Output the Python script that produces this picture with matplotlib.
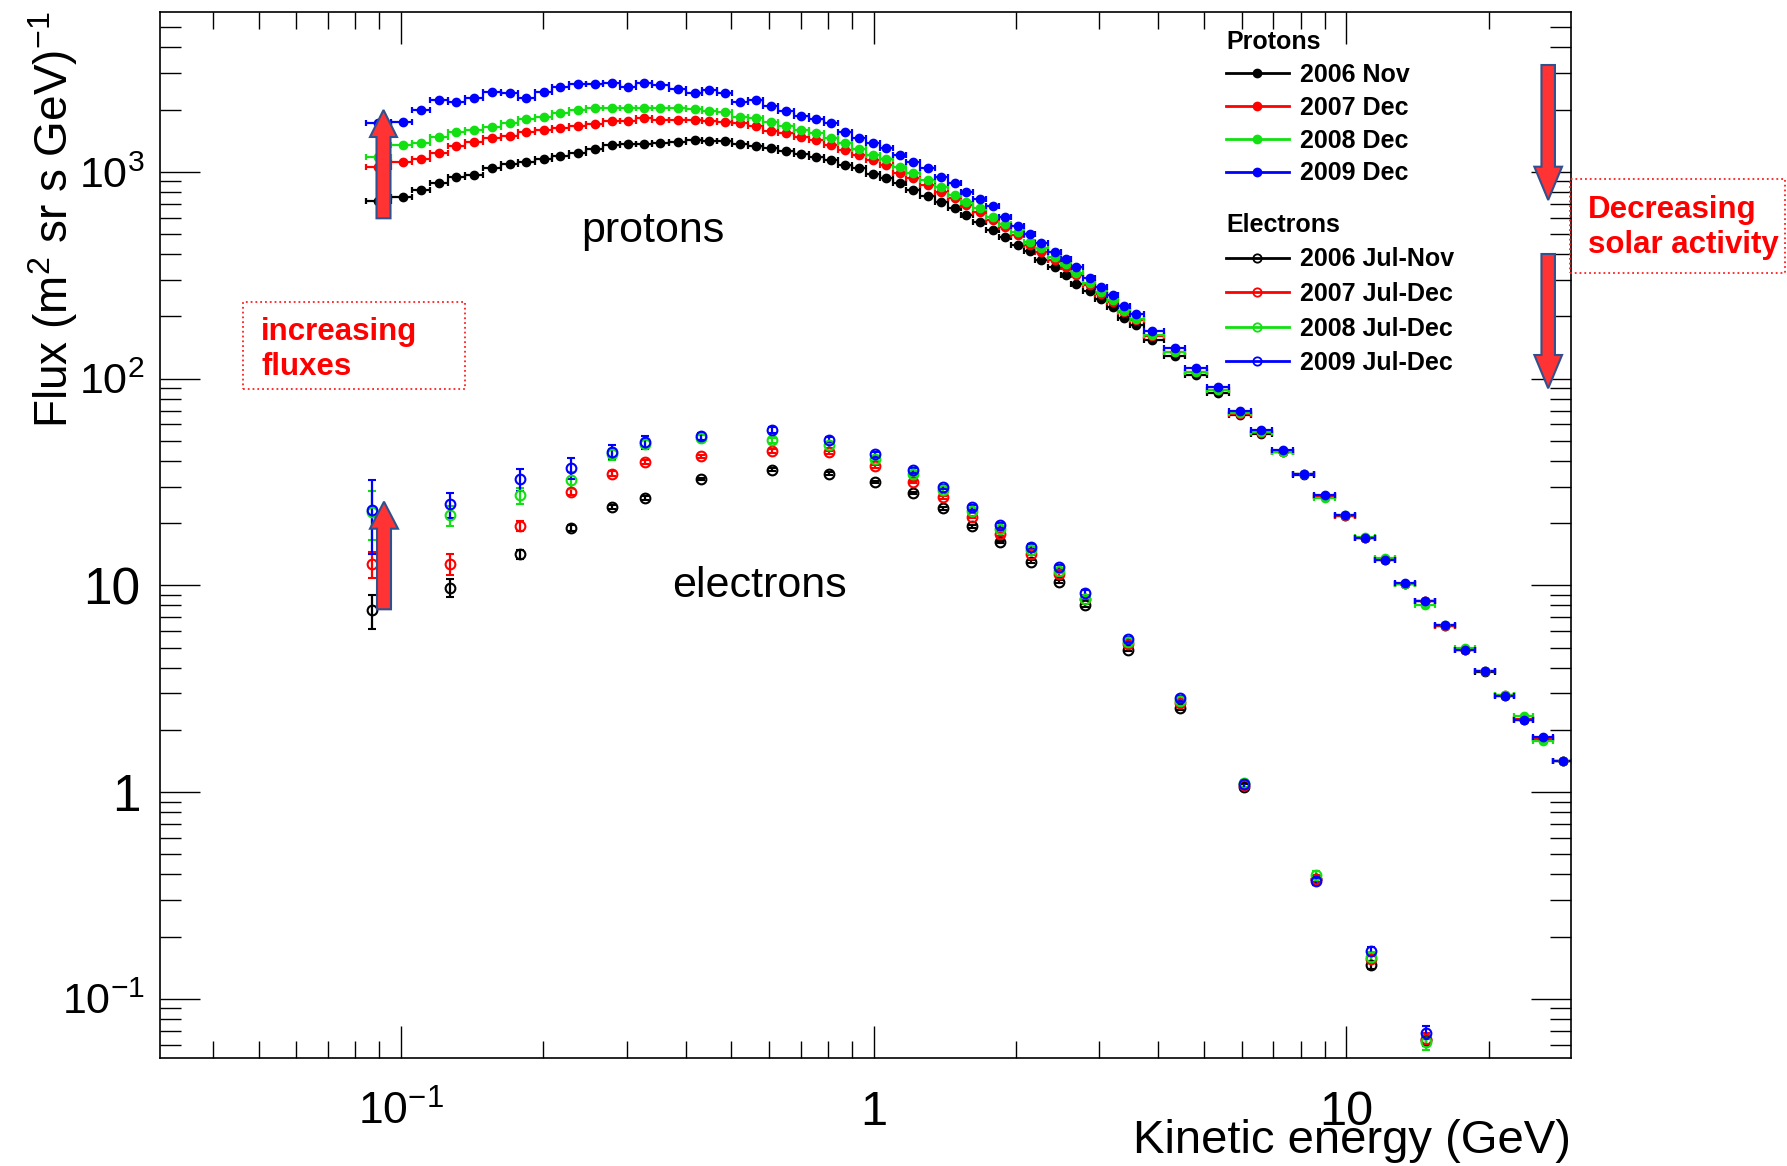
import numpy as np
import matplotlib
matplotlib.use('Agg')
import matplotlib.pyplot as plt
import matplotlib.patches as mpatches
import matplotlib.lines as mlines
import matplotlib.ticker as ticker
import matplotlib.transforms as mtransforms

plt.rcParams['font.family'] = ['Liberation Sans', 'DejaVu Sans']
plt.rcParams['mathtext.fontset'] = 'custom'
plt.rcParams['mathtext.rm'] = 'Liberation Sans'
plt.rcParams['mathtext.it'] = 'Liberation Sans:italic'
plt.rcParams['mathtext.bf'] = 'Liberation Sans:bold'
plt.rcParams['mathtext.default'] = 'regular'

W, H = 1787, 1166

# ---- proton spectra (GeV, flux) ----
e_p = [0.0894, 0.1009, 0.110, 0.1203, 0.1309, 0.1426, 0.156, 0.1703, 0.184, 0.2005,
       0.2173, 0.2367, 0.2568, 0.2794, 0.302, 0.326, 0.3535, 0.3853, 0.418, 0.448,
       0.4837, 0.5203, 0.5626, 0.6049, 0.6533, 0.7027, 0.7537, 0.8134, 0.868, 0.9304,
       0.996, 1.063, 1.134, 1.210, 1.302, 1.390, 1.483, 1.570, 1.675, 1.787,
       1.892, 2.019, 2.137, 2.262, 2.413, 2.556, 2.684, 2.862, 3.03, 3.207,
       3.383, 3.581, 3.886, 4.33, 4.814, 5.348, 5.944, 6.607, 7.34, 8.12,
       8.99, 9.91, 10.93, 12.04, 13.32, 14.64, 16.19, 17.78, 19.6, 21.61,
       23.71, 26.05, 28.71]

p_2006 = [724, 757, 815, 885, 939, 961, 1039, 1090, 1118, 1156,
          1191, 1227, 1284, 1346, 1362, 1362, 1373, 1397, 1423, 1413,
          1413, 1357, 1336, 1298, 1264, 1218, 1174, 1139, 1077, 1038,
          975, 929, 879, 815, 763, 716, 665, 617, 573, 522,
          485, 442, 415, 374, 347, 316, 288, 265, 242, 221,
          197, 181, 153, 128, 103.5, 85.6, 66.6, 54.2, 43.9, 34.2,
          26.9, 21.7, 16.9, 13.2, 10.2, 8.35, 6.37, 4.86, 3.82, 2.92,
          2.23, 1.83, 1.42]
p_2007 = [1057, 1118, 1148, 1227, 1332, 1397, 1451, 1489, 1562, 1592,
          1622, 1664, 1702, 1760, 1760, 1814, 1780, 1780, 1780, 1760,
          1746, 1715, 1664, 1579, 1534, 1477, 1423, 1346, 1274, 1205,
          1139, 1077, 989, 929, 862, 800, 743, 690, 640, 584,
          542, 494, 442, 410, 374, 347, 316, 283, 257, 235,
          209, 193, 161, 134, 107.4, 87.9, 67.6, 54.8, 44.1, 34.4,
          27.0, 21.7, 16.9, 13.4, 10.2, 8.35, 6.38, 4.87, 3.83, 2.95,
          2.25, 1.80, 1.42]
p_2008 = [1182, 1346, 1373, 1467, 1562, 1592, 1651, 1715, 1793, 1833,
          1917, 1989, 2027, 2027, 2042, 2027, 2027, 2027, 2004, 1974,
          1952, 1834, 1814, 1746, 1664, 1592, 1534, 1451, 1373, 1284,
          1205, 1148, 1050, 982, 912, 841, 771, 716, 665, 606,
          558, 513, 458, 426, 388, 360, 324, 290, 262, 239,
          212, 195, 162, 135, 108, 88.5, 68.0, 55.0, 44.3, 34.4,
          26.4, 21.8, 17.1, 13.6, 10.2, 8.05, 6.45, 5.0, 3.84, 2.94,
          2.33, 1.76, 1.42]
p_2009 = [1727, 1746, 1989, 2223, 2183, 2266, 2439, 2396, 2266, 2423,
          2578, 2658, 2658, 2679, 2578, 2679, 2628, 2505, 2396, 2500,
          2396, 2183, 2223, 2080, 1974, 1860, 1793, 1715, 1562, 1451,
          1382, 1307, 1205, 1118, 1038, 939, 879, 800, 735, 682,
          606, 548, 499, 455, 410, 380, 345, 308, 278, 253,
          224, 205, 170, 141, 112.5, 91.1, 69.7, 56.2, 45.0, 34.7,
          27.2, 21.8, 17.0, 13.3, 10.25, 8.39, 6.40, 4.88, 3.84, 2.93,
          2.236, 1.842, 1.42]

# ---- electron spectra ----
e_e = [0.0867, 0.1271, 0.1784, 0.2286, 0.2795, 0.3287, 0.4306, 0.6081, 0.8058, 1.006,
       1.208, 1.403, 1.612, 1.852, 2.147, 2.461, 2.797, 3.444, 4.453, 6.071,
       8.61, 11.25, 14.76]
el_2006 = [7.56, 9.74, 14.1, 18.9, 23.9, 26.4, 32.7, 36.3, 34.7, 31.6,
           27.9, 23.6, 19.3, 16.2, 13.0, 10.4, 8.0, 4.88, 2.54, 1.06,
           0.38, 0.145, 0.063]
el_2007 = [12.7, 12.7, 19.4, 28.3, 34.7, 39.5, 42.1, 44.6, 44.1, 37.6,
           31.6, 26.6, 21.4, 17.7, 14.2, 11.3, 8.6, 5.2, 2.70, 1.08,
           0.38, 0.155, 0.064]
el_2008 = [22.5, 21.8, 27.2, 32.2, 43.0, 48.1, 51.8, 50.3, 47.6, 41.0,
           34.4, 28.8, 23.0, 18.8, 14.8, 11.7, 8.6, 5.3, 2.75, 1.10,
           0.398, 0.160, 0.0617]
el_2009 = [23.2, 24.6, 32.6, 36.9, 44.1, 49.3, 52.6, 56.2, 50.7, 43.0,
           36.0, 29.9, 23.8, 19.5, 15.4, 12.2, 9.2, 5.49, 2.85, 1.09,
           0.371, 0.170, 0.0686]
err_2006 = [1.4, 1.0, 0.7, 0.6, 0.6, 0.6, 0.5, 0.5, 0.5, 0.5, 0.4, 0.35, 0.3, 0.25,
            0.2, 0.17, 0.14, 0.09, 0.05, 0.03, 0.012, 0.006, 0.004]
err_2007 = [1.8, 1.5, 1.0, 1.0, 0.9, 0.9, 0.8, 0.8, 0.7, 0.6, 0.5, 0.4, 0.35, 0.3,
            0.25, 0.2, 0.15, 0.1, 0.06, 0.03, 0.012, 0.006, 0.004]
err_2008 = [6.0, 2.5, 2.5, 3.0, 2.5, 2.5, 1.5, 1.5, 1.2, 1.0, 0.8, 0.6, 0.5, 0.4,
            0.3, 0.25, 0.2, 0.12, 0.07, 0.04, 0.015, 0.008, 0.005]
err_2009 = [9.0, 3.5, 4.0, 4.2, 3.5, 3.5, 2.0, 1.8, 1.5, 1.2, 1.0, 0.8, 0.6, 0.5,
            0.4, 0.3, 0.25, 0.15, 0.08, 0.04, 0.015, 0.008, 0.005]

colors = ['#000000', '#ff0000', '#12e012', '#0000ff']
p_labels = ['2006 Nov', '2007 Dec', '2008 Dec', '2009 Dec']
e_labels = ['2006 Jul-Nov', '2007 Jul-Dec', '2008 Jul-Dec', '2009 Jul-Dec']
x_ticks, x_ticklabels = [0.1, 1, 10], ['$10^{-1}$', '1', '10']
y_ticks, y_ticklabels = [0.1, 1, 10, 100, 1000], ['$10^{-1}$', '1', '10', '$10^{2}$', '$10^{3}$']


def fx(x):
    return x / W


def fy(y):
    return 1 - y / H


def bin_err(e):
    le = np.log10(np.asarray(e))
    mid = (le[1:] + le[:-1]) / 2
    lo = np.concatenate([[2 * le[0] - mid[0]], mid])
    hi = np.concatenate([mid, [2 * le[-1] - mid[-1]]])
    return [10**le - 10**lo, 10**hi - 10**le]


fig = plt.figure(figsize=(W / 100, H / 100), dpi=100)
ax = fig.add_axes([fx(160), fy(1057.5), (1570.6 - 160) / W, (1057.5 - 11.7) / H])

xerr_p = bin_err(e_p)
for flux, c in zip([p_2006, p_2007, p_2008, p_2009], colors):
    ax.errorbar(e_p, flux, xerr=xerr_p, fmt='o', color=c, ms=6, elinewidth=1.6,
                capsize=2.5, capthick=1.6)

for flux, err, c in zip([el_2006, el_2007, el_2008, el_2009],
                        [err_2006, err_2007, err_2008, err_2009], colors):
    ax.errorbar(e_e, flux, yerr=err, fmt='o', mfc='none', mec=c, ecolor=c, ms=7,
                mew=1.5, elinewidth=1.6, capsize=3, capthick=1.6)

ax.set_xscale('log')
ax.set_yscale('log')
ax.set_xlim(0.0309, 29.8)
ax.set_ylim(0.052, 5950)

ax.xaxis.set_major_locator(ticker.FixedLocator(x_ticks))
ax.xaxis.set_major_formatter(ticker.FixedFormatter(x_ticklabels))
ax.xaxis.set_minor_locator(ticker.LogLocator(base=10, subs=np.arange(2, 10), numticks=30))
ax.xaxis.set_minor_formatter(ticker.NullFormatter())
ax.yaxis.set_major_locator(ticker.FixedLocator(y_ticks))
ax.yaxis.set_major_formatter(ticker.FixedFormatter(y_ticklabels))
ax.yaxis.set_minor_locator(ticker.LogLocator(base=10, subs=np.arange(2, 10), numticks=30))
ax.yaxis.set_minor_formatter(ticker.NullFormatter())

ax.tick_params(which='both', direction='in', top=True, right=True, width=1.0)
ax.tick_params(axis='y', which='major', length=29, pad=11, labelsize=31)
ax.tick_params(axis='y', which='minor', length=15)
ax.tick_params(axis='x', which='major', length=23, pad=48.5, labelsize=32)
ax.tick_params(axis='x', which='minor', length=12)
# plain labels are drawn larger than the power-of-ten ones
for t, lab in zip(ax.xaxis.get_major_ticks(), x_ticklabels):
    t.label1.set_va('baseline')
    t.label1.set_fontsize(32 if '^' in lab else 35)
shift = mtransforms.ScaledTranslation(-3 / 72, 0, fig.dpi_scale_trans)
for t, lab in zip(ax.yaxis.get_major_ticks(), y_ticklabels):
    if '^' in lab:
        t.label1.set_fontsize(31)
    else:
        t.label1.set_fontsize(37)
        t.label1.set_transform(t.label1.get_transform() + shift)
for s in ax.spines.values():
    s.set_linewidth(1.2)

ax.set_ylabel(r'Flux (m$^{2}$ sr s GeV)$^{-1}$', fontsize=33, loc='top')
ax.yaxis.set_label_coords(-0.057, 1.0)
ax.set_xlabel('Kinetic energy (GeV)', fontsize=34, loc='right')
ax.xaxis.set_label_coords(1.0, -0.059)

# legends
bold = {'weight': 'bold', 'size': 18}
p_handles = [mlines.Line2D([], [], color=c, marker='o', ms=6, lw=2) for c in colors]
e_handles = [mlines.Line2D([], [], color=c, marker='o', ms=6, mfc='none', mew=1.3, lw=2)
             for c in colors]
leg_kw = dict(loc='upper left', bbox_transform=fig.transFigure, frameon=False, prop=bold,
              title_fontproperties=bold, alignment='left', borderpad=0, borderaxespad=0,
              handlelength=2.5, handletextpad=0.45, numpoints=1)
leg1 = ax.legend(p_handles, p_labels, title='Protons', bbox_to_anchor=(fx(1226), fy(30)),
                 labelspacing=0.355, **leg_kw)
ax.add_artist(leg1)
ax.legend(e_handles, e_labels, title='Electrons', bbox_to_anchor=(fx(1226), fy(213)),
          labelspacing=0.42, **leg_kw)

# annotations
fig.text(fx(581), fy(241.6), 'protons', fontsize=31, va='baseline')
fig.text(fx(672), fy(597), 'electrons', fontsize=31, va='baseline')

red_txt = dict(fontsize=22.5, fontweight='bold', color='#ff0000', va='baseline')
fig.text(fx(261), fy(339.6), 'increasing', **red_txt)
fig.text(fx(261), fy(375), 'fluxes', **red_txt)
fig.text(fx(1587.6), fy(217.7), 'Decreasing', **red_txt)
fig.text(fx(1587.6), fy(253), 'solar activity', **red_txt)

for (x0, y0, x1, y1) in [(243, 302, 465, 388.6), (1570, 179, 1785, 273)]:
    fig.add_artist(mpatches.Rectangle((fx(x0), fy(y1)), (x1 - x0) / W, (y1 - y0) / H,
                                      transform=fig.transFigure, fill=False,
                                      ec='#ff2020', ls=':', lw=1.3))


def block_arrow(cx, y_tail, y_tip, shaft, head, head_len):
    a = mpatches.FancyArrow(fx(cx), fy(y_tail), 0, fy(y_tip) - fy(y_tail),
                            width=shaft / W, head_width=head / W, head_length=head_len / H,
                            length_includes_head=True, transform=fig.transFigure,
                            fc='#ff3333', ec='#2f528f', lw=1.5)
    fig.add_artist(a)


block_arrow(383.5, 218.3, 110, 14, 27, 27)
block_arrow(384, 609.3, 501.7, 14, 28, 27)
block_arrow(1548.2, 65, 200, 13.5, 27.7, 33.3)
block_arrow(1548.2, 254, 388.3, 13.5, 27.7, 33.3)

fig.savefig('out.png', dpi=100)
